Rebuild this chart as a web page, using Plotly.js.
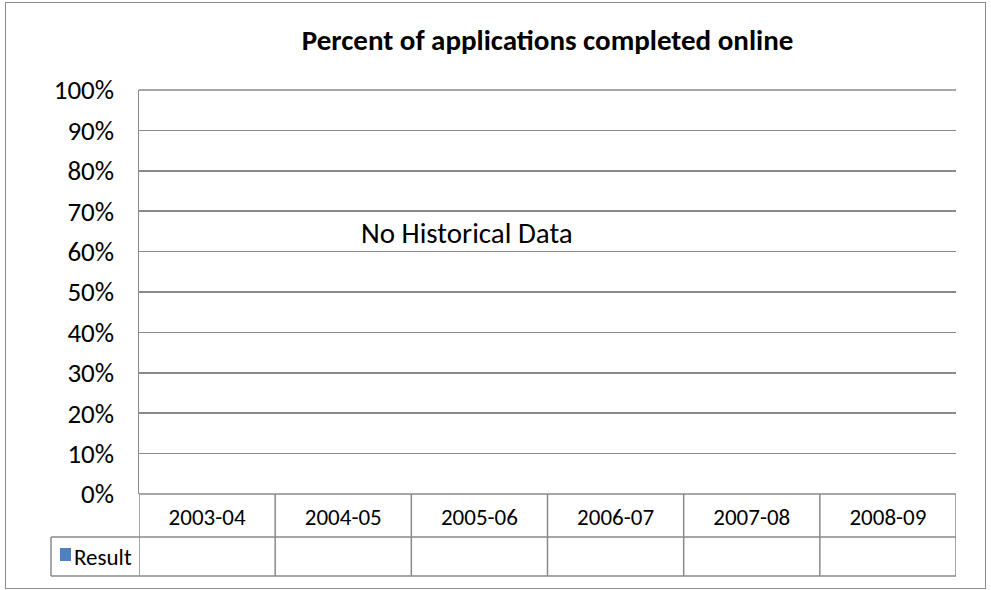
<!DOCTYPE html>
<html>
<head>
<meta charset="utf-8">
<script src="https://cdn.plot.ly/plotly-3.0.1.min.js"></script>
<style>
  html, body { margin: 0; padding: 0; background: #fff; }
  #wrap { position: relative; width: 991px; height: 590px; }
  #chart { width: 991px; height: 590px; }
  #frame { position: absolute; left: 5px; top: 2px; width: 979px; height: 585px;
           border: 1.5px solid #8c8c8c; pointer-events: none; }
</style>
</head>
<body>
<div id="wrap">
  <div id="chart"></div>
  <div id="frame"></div>
</div>
<script>
// ---- data ----
const categories = ["2003-04", "2004-05", "2005-06", "2006-07", "2007-08", "2008-09"];
const resultValues = [null, null, null, null, null, null];
const seriesName = "Result";
const chartTitle = "Percent of applications completed online";
const noteText = "No Historical Data";

// ---- layout constants ----
const FONT = "Carlito, Calibri, 'Liberation Sans', Arial, sans-serif";
const LINE = "#8a8a8a";
const W = 991, H = 590;
const M = { l: 139, r: 35, t: 90, b: 96 };
const plotH = H - M.t - M.b;   // 404
const plotW = W - M.l - M.r;   // 817
const row1Bottom = -(537 - 494) / plotH;
const row2Bottom = -(576 - 494) / plotH;
const legendLeft = -(139 - 51) / plotW;

const shapes = [];
// top gridline (edge of range)
shapes.push({ type: "line", xref: "paper", yref: "paper", x0: 0, x1: 1, y0: 1, y1: 1,
              line: { color: LINE, width: 1.5 } });
// vertical table lines at category boundaries
for (let i = 0; i <= categories.length; i++) {
  shapes.push({ type: "line", xref: "x", yref: "paper", x0: i - 0.5, x1: i - 0.5,
                y0: 0, y1: row2Bottom, line: { color: LINE, width: 1.5 } });
}
// horizontal table lines
shapes.push({ type: "line", xref: "paper", yref: "paper", x0: 0, x1: 1,
              y0: 0, y1: 0, line: { color: LINE, width: 1.5 } });
shapes.push({ type: "line", xref: "paper", yref: "paper", x0: legendLeft, x1: 1,
              y0: row1Bottom, y1: row1Bottom, line: { color: LINE, width: 1.5 } });
shapes.push({ type: "line", xref: "paper", yref: "paper", x0: legendLeft, x1: 1,
              y0: row2Bottom, y1: row2Bottom, line: { color: LINE, width: 1.5 } });
// legend cell left border
shapes.push({ type: "line", xref: "paper", yref: "paper", x0: legendLeft, x1: legendLeft,
              y0: row1Bottom, y1: row2Bottom, line: { color: LINE, width: 1.5 } });
// legend key square
const keyL = -(139 - 60) / plotW, keyR = -(139 - 71) / plotW;
const keyT = -(548 - 494) / plotH, keyB = -(561 - 494) / plotH;
shapes.push({ type: "rect", xref: "paper", yref: "paper", x0: keyL, x1: keyR,
              y0: keyB, y1: keyT, fillcolor: "#4F81BD", line: { width: 0 } });

const data = [{
  type: "bar",
  x: categories,
  y: resultValues,
  name: seriesName,
  marker: { color: "#4F81BD" },
  showlegend: false
}];

const layout = {
  width: W, height: H,
  margin: M,
  paper_bgcolor: "#ffffff",
  plot_bgcolor: "#ffffff",
  font: { family: FONT, size: 23, color: "#000" },
  title: { text: "<b>" + chartTitle + "</b>", x: 0.5, xref: "paper", xanchor: "center",
           y: 1 - 40 / H, yanchor: "middle", font: { family: FONT, size: 29, color: "#000" } },
  xaxis: {
    type: "category",
    range: [-0.5, categories.length - 0.5],
    showgrid: false, zeroline: false, showline: false,
    ticks: "", ticklabelstandoff: 7,
    tickfont: { family: FONT, size: 23, color: "#000" },
    fixedrange: true
  },
  yaxis: {
    range: [0, 1],
    dtick: 0.1, tick0: 0,
    tickformat: ".0%",
    showgrid: true, gridcolor: LINE, gridwidth: 1.5,
    zeroline: false,
    showline: true, linecolor: LINE, linewidth: 1.5,
    ticks: "", ticklabelstandoff: 18,
    tickfont: { family: FONT, size: 27, color: "#000" },
    fixedrange: true
  },
  shapes: shapes,
  annotations: [
    { text: noteText, xref: "paper", yref: "y", x: (467 - 139) / plotW, y: 0.645,
      xanchor: "center", yanchor: "middle", showarrow: false,
      font: { family: FONT, size: 29, color: "#000" } },
    { text: seriesName, xref: "paper", yref: "paper", x: -(139 - 72) / plotW,
      y: (row1Bottom + row2Bottom) / 2, xanchor: "left", yanchor: "middle", showarrow: false,
      font: { family: FONT, size: 23, color: "#000" } }
  ],
  bargap: 0.3
};

Plotly.newPlot("chart", data, layout, { displayModeBar: false, staticPlot: true });
</script>
</body>
</html>
